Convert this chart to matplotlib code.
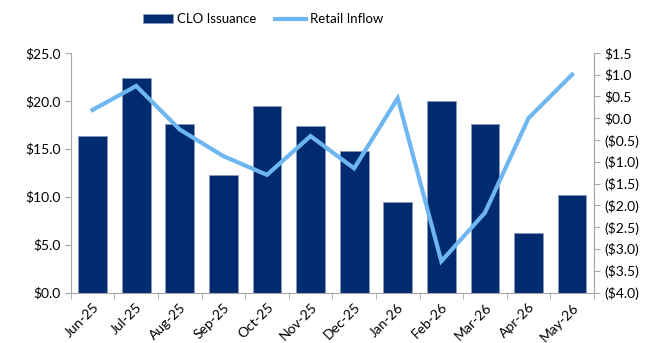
import numpy as np
import matplotlib.pyplot as plt
from matplotlib.ticker import FuncFormatter

months = ['Jun-25', 'Jul-25', 'Aug-25', 'Sep-25', 'Oct-25', 'Nov-25',
          'Dec-25', 'Jan-26', 'Feb-26', 'Mar-26', 'Apr-26', 'May-26']
clo_issuance = [16.3, 22.4, 17.6, 12.3, 19.5, 17.4, 14.8, 9.4, 20.0, 17.6, 6.2, 10.2]
retail_inflow = [0.19, 0.74, -0.26, -0.87, -1.30, -0.41, -1.15, 0.46, -3.28, -2.17, 0.0, 1.0]

plt.rcParams['font.family'] = ['Lato', 'DejaVu Sans']
plt.rcParams['font.size'] = 10

navy = '#002B6E'
light_blue = '#6DB6F2'
grey = '#A6A6A6'

fig = plt.figure(figsize=(6.68, 3.43), dpi=100)
ax = fig.add_axes([0.106, 0.147, 0.783, 0.699])
ax2 = ax.twinx()

x = np.arange(len(months))
bars = ax.bar(x, clo_issuance, width=0.66, color=navy, edgecolor='#8A9BB8',
              linewidth=0.6, label='CLO Issuance', zorder=2)
line, = ax2.plot(x, retail_inflow, color=light_blue, linewidth=3,
                 solid_joinstyle='miter', label='Retail Inflow', zorder=3)

ax.set_xlim(-0.5, len(months) - 0.5)
ax.set_ylim(0, 25)
ax.set_yticks(np.arange(0, 25.1, 5))
ax.yaxis.set_major_formatter(FuncFormatter(lambda v, p: f'${v:.1f}'))

ax2.set_ylim(-4, 1.5)
ax2.set_yticks(np.arange(-4, 1.51, 0.5))


def paren_dollar(v, p):
    if v < -1e-9:
        return f'(${abs(v):.1f})'
    return f'${abs(v):.1f}'


ax2.yaxis.set_major_formatter(FuncFormatter(paren_dollar))

ax.set_xticks(x)
ax.set_xticklabels(months, rotation=45, ha='right', rotation_mode='anchor')
ax.tick_params(axis='x', length=0, pad=6)
ax.set_xticks(np.arange(-0.5, len(months)), minor=True)
ax.tick_params(axis='x', which='minor', length=4, color=grey, direction='out')

for a in (ax, ax2):
    a.spines['top'].set_visible(False)
    for s in a.spines.values():
        s.set_color(grey)
    a.tick_params(axis='y', length=4, color=grey, colors='black')
ax2.spines['left'].set_visible(False)
ax2.spines['bottom'].set_visible(False)

# the line sits on the twin axes, which would otherwise hide the bars
ax2.set_zorder(ax.get_zorder() + 1)
ax2.patch.set_visible(False)

fig.legend([bars, line], ['CLO Issuance', 'Retail Inflow'], loc='center',
           bbox_to_anchor=(263 / 668, 1 - 19 / 343), ncol=2, frameon=False,
           handlelength=2.3, handleheight=0.6, columnspacing=1.4,
           handletextpad=0.3, fontsize=9.5)

fig.savefig('out.png', dpi=100)
